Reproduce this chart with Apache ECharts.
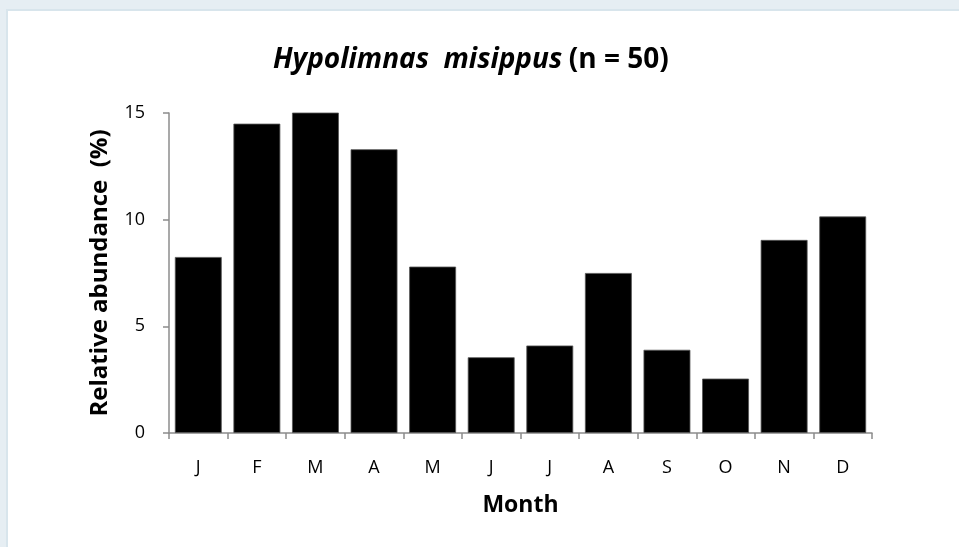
<!DOCTYPE html>
<html>
<head>
<meta charset="utf-8">
<script src="https://cdn.jsdelivr.net/npm/echarts@6/dist/echarts.min.js"></script>
<style>
html,body{margin:0;padding:0;background:#e6eef3;width:959px;height:547px;overflow:hidden;}
#panel{position:absolute;left:6px;top:9px;width:953px;height:538px;background:#fff;border-left:2px solid #d8e5ec;border-top:2px solid #d8e5ec;box-sizing:border-box;}
#chart{position:absolute;left:0;top:0;width:959px;height:547px;}
</style>
</head>
<body>
<div id="panel"></div>
<div id="chart"></div>
<script>
const months = ['J','F','M','A','M','J','J','A','S','O','N','D'];
const abundance = [8.25, 14.5, 15.05, 13.3, 7.8, 3.55, 4.1, 7.5, 3.9, 2.55, 9.05, 10.15];
const speciesName = 'Hypolimnas  misippus';
const sampleNote = '(n = 50)';

const FONT = '"Open Sans", sans-serif';
const chart = echarts.init(document.getElementById('chart'), null, {renderer:'canvas'});
chart.setOption({
  backgroundColor: 'transparent',
  animation: false,
  graphic: [{
    type: 'text',
    left: 273,
    top: 46,
    style: {
      text: '{i|' + speciesName + '}  {b|' + sampleNote + '}',
      rich: {
        i: {fontFamily: FONT, fontSize: 28, fontWeight: 'bold', fontStyle: 'italic', fill: '#000'},
        b: {fontFamily: FONT, fontSize: 28, fontWeight: 'bold', fill: '#000'}
      }
    }
  }],
  grid: {left: 169, right: 87, top: 113, bottom: 114, containLabel: false},
  xAxis: {
    type: 'category',
    data: months,
    name: 'Month',
    nameLocation: 'middle',
    nameGap: 61,
    nameTextStyle: {fontFamily: FONT, fontSize: 23, fontWeight: 'bold', color: '#000'},
    axisLine: {lineStyle: {color: '#8c8c8c', width: 1.5}},
    axisTick: {show: true, length: 6, lineStyle: {color: '#8c8c8c', width: 1.5}},
    axisLabel: {fontFamily: FONT, fontSize: 18, color: '#000', margin: 26}
  },
  yAxis: {
    type: 'value',
    min: 0, max: 15, interval: 5,
    name: 'Relative abundance  (%)',
    nameLocation: 'middle',
    nameGap: 57,
    nameTextStyle: {fontFamily: FONT, fontSize: 24, fontWeight: 'bold', color: '#000'},
    axisLine: {show: true, lineStyle: {color: '#8c8c8c', width: 1.5}},
    axisTick: {show: true, length: 6, lineStyle: {color: '#8c8c8c', width: 1.5}},
    splitLine: {show: false},
    axisLabel: {fontFamily: FONT, fontSize: 18, color: '#000', margin: 24}
  },
  series: [{
    type: 'bar',
    data: abundance,
    barCategoryGap: '20%',
    itemStyle: {color: '#000', borderColor: '#555', borderWidth: 0.8}
  }]
});
</script>
</body>
</html>
